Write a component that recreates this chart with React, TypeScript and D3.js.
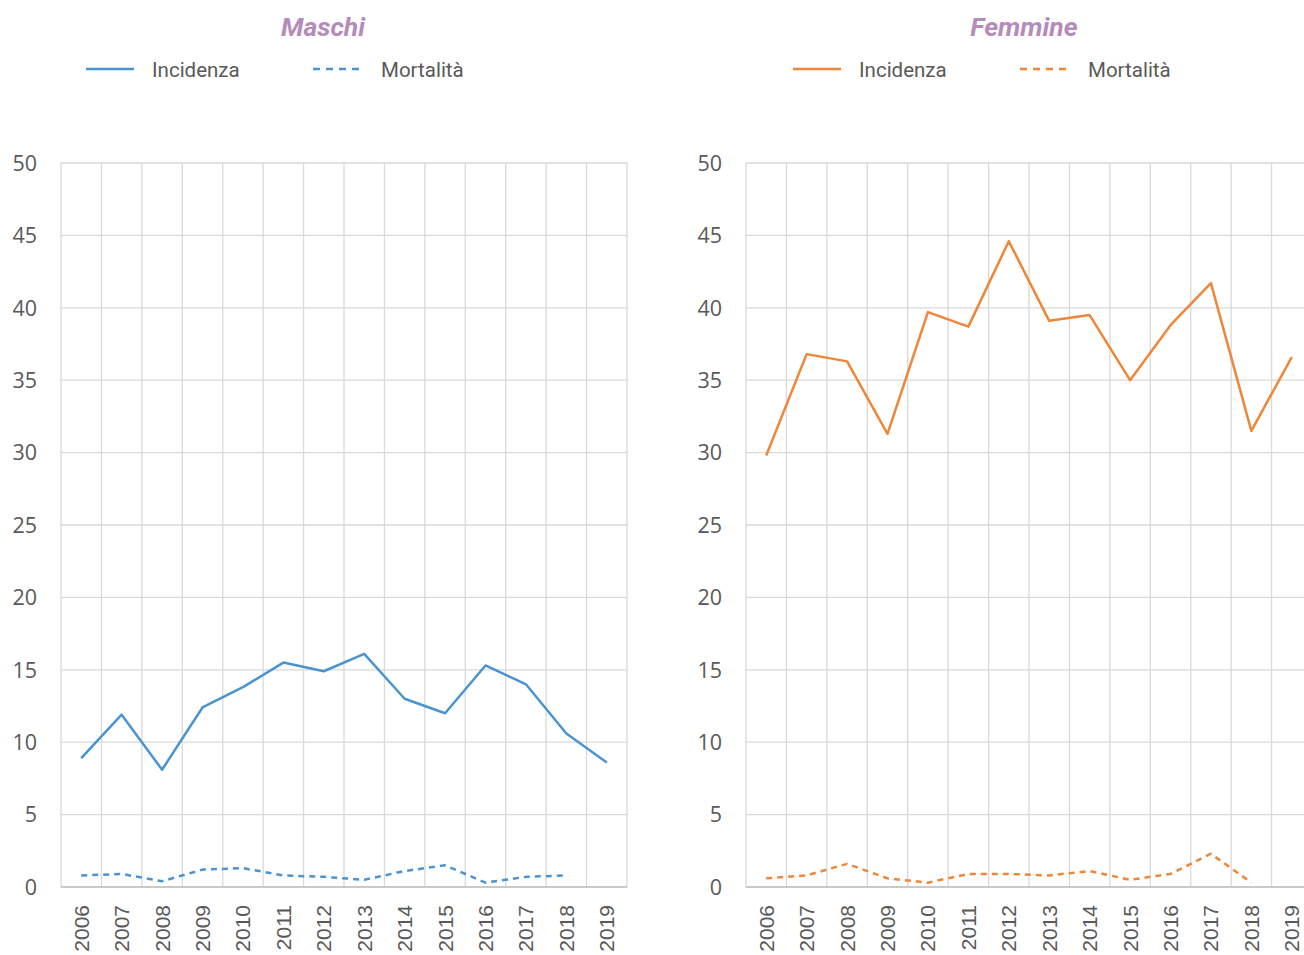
import React from "react";
import * as d3 from "d3";

const years = ["2006","2007","2008","2009","2010","2011","2012","2013","2014","2015","2016","2017","2018","2019"];
const maschiIncidenza = [8.9, 11.9, 8.1, 12.4, 13.8, 15.5, 14.9, 16.1, 13.0, 12.0, 15.3, 14.0, 10.6, 8.6];
const maschiMortalita: (number | null)[] = [0.8, 0.9, 0.4, 1.2, 1.3, 0.8, 0.7, 0.5, 1.1, 1.5, 0.3, 0.7, 0.8, null];
const femmineIncidenza = [29.8, 36.8, 36.3, 31.3, 39.7, 38.7, 44.6, 39.1, 39.5, 35.0, 38.8, 41.7, 31.5, 36.6];
const femmineMortalita: (number | null)[] = [0.6, 0.8, 1.6, 0.6, 0.3, 0.9, 0.9, 0.8, 1.1, 0.5, 0.9, 2.3, 0.3, null];
const yTicks = [0, 5, 10, 15, 20, 25, 30, 35, 40, 45, 50];

const BLUE = "#4a94d1";
const ORANGE = "#ef8638";
const TITLE = "#b58bba";
const TEXT = "#595959";
const GRID = "#d9d9d9";

type PanelProps = {
  left: number;
  title: string;
  titleX: number;
  color: string;
  inc: number[];
  mort: (number | null)[];
  legendX: number;
};

const TOP = 163;
const BOTTOM = 887;
const WIDTH = 566;

function Panel({ left, title, titleX, color, inc, mort, legendX }: PanelProps) {
  const x = d3.scaleBand<string>().domain(years).range([left, left + WIDTH]).padding(0);
  const y = d3.scaleLinear().domain([0, 50]).range([BOTTOM, TOP]);
  const cx = (d: string) => (x(d) as number) + x.bandwidth() / 2;
  const lineInc = d3
    .line<number>()
    .x((_, i) => cx(years[i]))
    .y((d) => y(d));
  const lineMort = d3
    .line<number | null>()
    .defined((d) => d !== null)
    .x((_, i) => cx(years[i]))
    .y((d) => y(d as number));
  const edges = years.map((d) => x(d) as number).concat([left + WIDTH]);
  return (
    <g>
      <text x={titleX} y={36} textAnchor="middle" fontFamily="Roboto" fontWeight="bold" fontStyle="italic" fontSize={26.5} fill={TITLE}>
        {title}
      </text>
      <line x1={legendX} x2={legendX + 48} y1={69} y2={69} stroke={color} strokeWidth={2.5} />
      <text x={legendX + 66} y={76.5} fontFamily="Roboto" fontSize={20.5} fill={TEXT}>Incidenza</text>
      <line x1={legendX + 227} x2={legendX + 275} y1={69} y2={69} stroke={color} strokeWidth={2.5} strokeDasharray="7,6" />
      <text x={legendX + 295} y={76.5} fontFamily="Roboto" fontSize={20.5} fill={TEXT}>Mortalità</text>

      {yTicks.map((t) => (
        <line key={"h" + t} x1={left} x2={left + WIDTH} y1={y(t)} y2={y(t)} stroke={GRID} strokeWidth={1.3} />
      ))}
      {edges.map((e, i) => (
        <line key={"v" + i} x1={e} x2={e} y1={TOP} y2={BOTTOM} stroke={GRID} strokeWidth={1.3} />
      ))}
      <line x1={left} x2={left + WIDTH} y1={BOTTOM} y2={BOTTOM} stroke="#c9c9c9" strokeWidth={2} />
      {yTicks.map((t) => (
        <text key={"yt" + t} x={left - 24} y={y(t)} dy="0.36em" textAnchor="end" fontFamily="Open Sans" fontSize={21.5} fill={TEXT}>
          {t}
        </text>
      ))}
      {years.map((d) => (
        <text
          key={"xt" + d}
          transform={`translate(${cx(d)},${905}) rotate(-90)`}
          textAnchor="end"
          dy="0.36em"
          fontFamily="Liberation Sans"
          fontSize={21}
          fill={TEXT}
        >
          {d}
        </text>
      ))}
      <path d={lineInc(inc) || ""} fill="none" stroke={color} strokeWidth={2.5} strokeLinejoin="round" />
      <path d={lineMort(mort) || ""} fill="none" stroke={color} strokeWidth={2.5} strokeDasharray="6,5" strokeLinejoin="round" />
    </g>
  );
}

export default function App() {
  return (
    <svg
      width={1304}
      height={955}
      viewBox="0 0 1304 955"
      style={{ position: "absolute", left: 0, top: 0, background: "#fff", display: "block" }}
    >
      <rect width={1304} height={955} fill="#fff" />
      <Panel left={61} title="Maschi" titleX={323} color={BLUE} inc={maschiIncidenza} mort={maschiMortalita} legendX={86} />
      <Panel left={746} title="Femmine" titleX={1024} color={ORANGE} inc={femmineIncidenza} mort={femmineMortalita} legendX={793} />
    </svg>
  );
}
